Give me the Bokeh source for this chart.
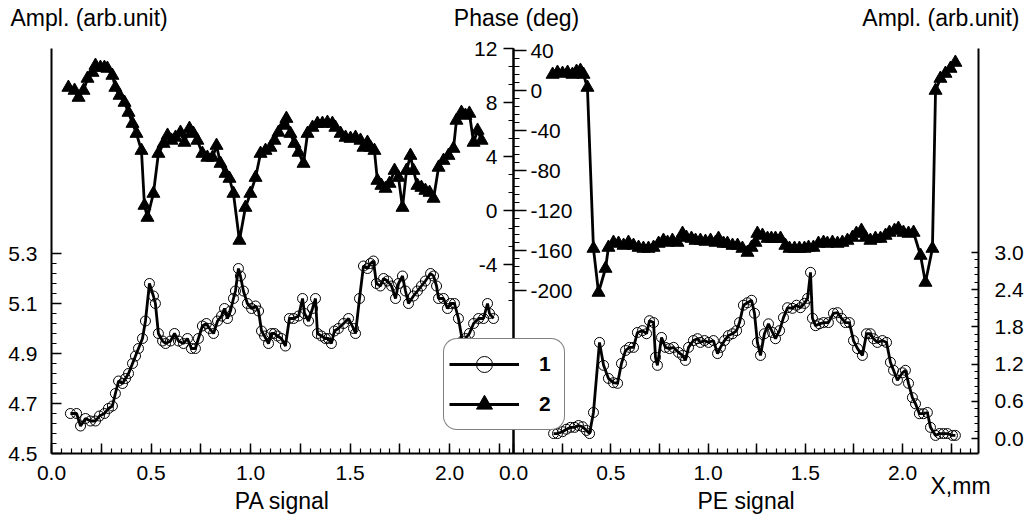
from bokeh.plotting import figure
from bokeh.models import Range1d, LinearAxis, FixedTicker, Label, Legend, LegendItem
from bokeh.embed import file_html
from bokeh.resources import INLINE

FONT = "Liberation Sans"

# ---------------- data: PA signal (left panel) ----------------
pa_amp_x = [0.095, 0.126, 0.146, 0.171, 0.196, 0.221, 0.241, 0.266, 0.286, 0.306,
            0.321, 0.337, 0.357, 0.372, 0.387, 0.407, 0.422, 0.437, 0.457, 0.472,
            0.492, 0.512, 0.522, 0.537, 0.558, 0.573, 0.598, 0.618, 0.638, 0.663,
            0.683, 0.703, 0.723, 0.738, 0.758, 0.778, 0.794, 0.814, 0.834, 0.854,
            0.869, 0.884, 0.899, 0.914, 0.924, 0.939, 0.949, 0.964, 0.984, 1.005,
            1.025, 1.040, 1.055, 1.070, 1.090, 1.105, 1.120, 1.135, 1.155, 1.175,
            1.195, 1.216, 1.241, 1.261, 1.271, 1.291, 1.311, 1.326, 1.336, 1.356,
            1.376, 1.391, 1.406, 1.421, 1.441, 1.467, 1.492, 1.517, 1.527, 1.547,
            1.567, 1.587, 1.602, 1.617, 1.632, 1.652, 1.668, 1.688, 1.708, 1.728,
            1.743, 1.763, 1.778, 1.793, 1.818, 1.838, 1.858, 1.878, 1.904, 1.919,
            1.934, 1.944, 1.969, 1.989, 2.004, 2.024, 2.044, 2.064, 2.079, 2.099,
            2.120, 2.145, 2.170, 2.190, 2.200, 2.220]
pa_amp = [4.66, 4.66, 4.61, 4.64, 4.63, 4.63, 4.65, 4.66, 4.68, 4.69,
          4.74, 4.79, 4.78, 4.80, 4.82, 4.86, 4.89, 4.92, 4.96, 5.03,
          5.18, 5.13, 5.10, 4.98, 4.95, 4.94, 4.95, 4.98, 4.95, 4.94,
          4.96, 4.92, 4.92, 4.96, 5.01, 5.02, 5.00, 4.98, 5.03, 5.05,
          5.08, 5.04, 5.07, 5.12, 5.15, 5.24, 5.21, 5.15, 5.10, 5.08,
          5.09, 5.07, 4.99, 4.97, 4.94, 4.98, 4.98, 4.97, 4.96, 4.93,
          5.04, 5.04, 5.05, 5.12, 5.06, 5.03, 5.08, 5.12, 4.98, 4.97,
          4.96, 4.96, 4.94, 4.99, 5.00, 5.02, 5.04, 5.00, 4.98, 5.12,
          5.25, 5.24, 5.26, 5.27, 5.18, 5.17, 5.20, 5.19, 5.17, 5.12,
          5.18, 5.21, 5.15, 5.10, 5.13, 5.15, 5.17, 5.19, 5.22, 5.21,
          5.17, 5.12, 5.12, 5.08, 5.10, 5.10, 5.04, 4.95, 4.96, 4.98,
          5.02, 5.04, 5.04, 5.10, 5.06, 5.04]

pa_phase_x = [0.085, 0.116, 0.136, 0.161, 0.181, 0.206, 0.221, 0.246, 0.266, 0.281,
              0.306, 0.321, 0.342, 0.367, 0.387, 0.407, 0.427, 0.452, 0.467, 0.482,
              0.512, 0.537, 0.563, 0.583, 0.603, 0.623, 0.648, 0.668, 0.693, 0.713,
              0.733, 0.758, 0.783, 0.809, 0.829, 0.849, 0.874, 0.894, 0.914, 0.944,
              0.974, 0.999, 1.025, 1.050, 1.075, 1.100, 1.120, 1.140, 1.165, 1.180,
              1.200, 1.220, 1.241, 1.266, 1.286, 1.311, 1.336, 1.361, 1.386, 1.411,
              1.426, 1.452, 1.477, 1.502, 1.527, 1.552, 1.567, 1.587, 1.602, 1.622,
              1.637, 1.657, 1.678, 1.698, 1.723, 1.743, 1.763, 1.783, 1.803, 1.818,
              1.838, 1.858, 1.878, 1.899, 1.919, 1.944, 1.969, 1.994, 2.019, 2.034,
              2.059, 2.079, 2.099, 2.120, 2.140, 2.160]
pa_phase = [9.11, 8.89, 8.37, 8.89, 9.78, 10.22, 10.74, 10.59, 10.59, 10.52,
            10.0, 9.11, 8.52, 8.0, 7.26, 6.44, 5.70, 4.44, 0.37, -0.52,
            1.26, 4.22, 4.96, 5.56, 5.19, 5.41, 5.78, 5.04, 6.07, 5.70,
            5.19, 4.22, 3.93, 3.93, 4.81, 3.48, 2.74, 2.37, 1.26, -2.22,
            0.22, 1.26, 2.44, 4.22, 4.44, 4.67, 5.19, 5.78, 6.30, 6.81,
            5.70, 4.96, 4.30, 3.48, 5.70, 6.15, 6.44, 6.44, 6.52, 6.44,
            6.15, 5.70, 5.41, 5.33, 5.41, 5.19, 4.67, 5.04, 4.67, 4.44,
            2.22, 1.85, 1.63, 2.00, 2.96, 2.44, 0.22, 2.96, 4.07, 2.96,
            1.85, 1.70, 1.48, 1.33, 0.89, 3.19, 3.70, 4.07, 4.59, 6.67,
            7.26, 7.04, 7.19, 5.04, 5.93, 5.19]

# ---------------- data: PE signal (right panel) ----------------
pe_amp_x = [0.206, 0.226, 0.252, 0.272, 0.293, 0.314, 0.334, 0.355, 0.375, 0.391,
            0.411, 0.442, 0.463, 0.488, 0.514, 0.535, 0.555, 0.576, 0.596, 0.617,
            0.637, 0.663, 0.684, 0.699, 0.720, 0.730, 0.740, 0.761, 0.781, 0.802,
            0.823, 0.848, 0.869, 0.884, 0.900, 0.925, 0.946, 0.961, 0.982, 1.003,
            1.028, 1.049, 1.064, 1.085, 1.105, 1.126, 1.147, 1.162, 1.182, 1.203,
            1.224, 1.239, 1.254, 1.270, 1.290, 1.311, 1.332, 1.347, 1.368, 1.388,
            1.409, 1.434, 1.455, 1.475, 1.496, 1.512, 1.527, 1.537, 1.553, 1.573,
            1.594, 1.619, 1.645, 1.666, 1.686, 1.707, 1.727, 1.748, 1.769, 1.794,
            1.815, 1.835, 1.851, 1.871, 1.897, 1.918, 1.938, 1.954, 1.974, 2.000,
            2.015, 2.031, 2.051, 2.067, 2.087, 2.108, 2.128, 2.144, 2.170, 2.190,
            2.211, 2.231, 2.257, 2.272]
pe_amp = [0.08, 0.08, 0.11, 0.15, 0.18, 0.18, 0.21, 0.19, 0.13, 0.08,
          0.42, 1.55, 1.18, 0.97, 0.90, 0.89, 1.21, 1.42, 1.47, 1.47,
          1.71, 1.74, 1.69, 1.90, 1.87, 1.31, 1.18, 1.63, 1.47, 1.45,
          1.47, 1.39, 1.34, 1.26, 1.47, 1.58, 1.61, 1.55, 1.58, 1.55,
          1.58, 1.37, 1.47, 1.58, 1.66, 1.69, 1.74, 1.87, 2.15, 2.19,
          2.23, 2.02, 1.55, 1.34, 1.69, 1.85, 1.71, 1.61, 1.74, 1.95,
          2.11, 2.10, 2.15, 2.11, 2.18, 2.26, 2.68, 1.94, 1.82, 1.85,
          1.87, 1.87, 2.02, 2.03, 1.94, 1.87, 1.87, 1.58, 1.45, 1.34,
          1.69, 1.69, 1.61, 1.55, 1.58, 1.55, 1.23, 1.10, 0.94, 1.06,
          1.10, 0.89, 0.66, 0.56, 0.40, 0.40, 0.42, 0.18, 0.05, 0.08,
          0.08, 0.08, 0.05, 0.05]

pe_phase_x = [0.201, 0.226, 0.252, 0.278, 0.303, 0.324, 0.344, 0.360, 0.380, 0.411,
              0.437, 0.473, 0.488, 0.514, 0.540, 0.566, 0.591, 0.617, 0.643, 0.668,
              0.694, 0.720, 0.746, 0.771, 0.792, 0.817, 0.843, 0.869, 0.889, 0.915,
              0.936, 0.961, 0.987, 1.013, 1.039, 1.054, 1.080, 1.100, 1.126, 1.152,
              1.177, 1.203, 1.224, 1.244, 1.254, 1.280, 1.306, 1.326, 1.347, 1.373,
              1.398, 1.419, 1.445, 1.470, 1.496, 1.517, 1.542, 1.568, 1.594, 1.614,
              1.640, 1.666, 1.691, 1.717, 1.743, 1.763, 1.789, 1.810, 1.835, 1.861,
              1.887, 1.913, 1.933, 1.959, 1.979, 2.005, 2.031, 2.057, 2.093, 2.118,
              2.154, 2.170, 2.195, 2.221, 2.247, 2.272]
pe_phase = [16, 18, 17, 18, 16, 19, 20, 16, 3, -158,
            -202, -178, -157, -152, -153, -155, -152, -155, -157, -158,
            -158, -157, -153, -150, -152, -150, -152, -143, -147, -148,
            -150, -150, -151, -150, -152, -148, -153, -153, -155, -155,
            -158, -162, -157, -152, -143, -145, -148, -148, -148, -148,
            -155, -158, -158, -158, -158, -157, -157, -153, -152, -153,
            -152, -153, -152, -150, -147, -143, -140, -147, -150, -148,
            -148, -145, -142, -140, -138, -142, -143, -142, -165, -192,
            -158, 0, 12, 17, 22, 28]

# ---------------- tick labels ----------------
pa_x_ticks = [0.0, 0.25, 0.5, 0.75, 1.0, 1.25, 1.5, 1.75, 2.0, 2.25]
pa_x_labels = ["0.0", "", "0.5", "", "1.0", "", "1.5", "", "2.0", ""]
pe_x_ticks = [0.0, 0.25, 0.5, 0.75, 1.0, 1.25, 1.5, 1.75, 2.0, 2.25]
pe_x_labels = ["0.0", "", "0.5", "", "1.0", "", "1.5", "", "2.0", ""]
amp_l_ticks = [4.5, 4.7, 4.9, 5.1, 5.3]
amp_l_labels = ["4.5", "4.7", "4.9", "5.1", "5.3"]
ph_l_ticks = [12, 8, 4, 0, -4]
ph_l_labels = ["12", "8", "4", "0", "-4"]
ph_r_ticks = [40, 0, -40, -80, -120, -160, -200]
ph_r_labels = ["40", "0", "-40", "-80", "-120", "-160", "-200"]
amp_r_ticks = [0.0, 0.6, 1.2, 1.8, 2.4, 3.0]
amp_r_labels = ["0.0", "0.6", "1.2", "1.8", "2.4", "3.0"]

# ---------------- figure (frame = whole canvas, axes placed inside) ----------------
X_SPLIT = 2.32      # boundary between the panels (left-panel x units)
X_END = 4.656       # right edge of the right panel (left-panel x units)
XR_END = 2.391      # right edge of the right panel (right-panel x units)

p = figure(width=1028, height=517, output_backend="svg", toolbar_location=None,
           x_range=Range1d(-0.256, 4.907), y_range=Range1d(4.244, 6.312),
           x_axis_type=None, y_axis_type=None,
           min_border_left=0, min_border_right=0, min_border_top=0, min_border_bottom=0)
p.outline_line_color = None
p.background_fill_color = "white"
p.border_fill_color = "white"
p.extra_x_ranges = {"xr": Range1d(-2.638, 2.648)}
p.extra_y_ranges = {"phL": Range1d(-22.74, 15.556),
                    "ampR": Range1d(-1.274, 7.065),
                    "phR": Range1d(-427, 90)}

TICK_FS = "21px"
TEXT_FS = "23px"


def style(ax, ticks, labels, minor, t_in, t_out, m_in, m_out, standoff):
    ax.ticker = FixedTicker(ticks=ticks, minor_ticks=minor)
    ax.major_label_overrides = {t: l for t, l in zip(ticks, labels)}
    ax.axis_line_color = "black"
    ax.axis_line_width = 2
    ax.major_tick_in = t_in
    ax.major_tick_out = t_out
    ax.minor_tick_in = m_in
    ax.minor_tick_out = m_out
    ax.major_tick_line_color = "black"
    ax.major_tick_line_width = 1.5
    ax.minor_tick_line_color = "black"
    ax.minor_tick_line_width = 1.2
    ax.major_label_text_font = FONT
    ax.major_label_text_font_size = TICK_FS
    ax.major_label_text_color = "black"
    ax.major_label_standoff = standoff
    ax.axis_label_text_font = FONT
    ax.axis_label_text_font_size = TEXT_FS
    ax.axis_label_text_font_style = "normal"
    ax.axis_label_text_color = "black"
    ax.axis_label_standoff = 5


# left amplitude axis
ax_al = LinearAxis(fixed_location=0, bounds=(4.5, 6.12))
style(ax_al, amp_l_ticks, amp_l_labels, [round(4.5 + 0.04 * i, 2) for i in range(21)],
      10, 0, 5, 0, 14)
p.add_layout(ax_al, "left")

# phase axis of left panel (on the middle line, labels to the left)
ax_pl = LinearAxis(y_range_name="phL", fixed_location=X_SPLIT, bounds=(-18.0, 12.0))
style(ax_pl, ph_l_ticks, ph_l_labels, [12 - 4.0 / 3.0 * i for i in range(15)],
      0, 10, 0, 5, 6)
p.add_layout(ax_pl, "left")

# phase axis of right panel (on the middle line, labels to the right)
ax_pr = LinearAxis(y_range_name="phR", fixed_location=X_SPLIT, bounds=(-363, 42))
style(ax_pr, ph_r_ticks, ph_r_labels, [40 - 8 * i for i in range(31)],
      0, 13, 0, 6, 4)
p.add_layout(ax_pr, "right")

# right amplitude axis
ax_ar = LinearAxis(y_range_name="ampR", fixed_location=X_END, bounds=(-0.242, 6.29))
style(ax_ar, amp_r_ticks, amp_r_labels, [round(0.12 * i, 2) for i in range(26)],
      7, 0, 4, 0, 16)
p.add_layout(ax_ar, "right")

# bottom axes
ax_xl = LinearAxis(fixed_location=4.5, bounds=(0, X_SPLIT), axis_label="PA signal")
style(ax_xl, pa_x_ticks, pa_x_labels, [round(0.05 * i, 2) for i in range(47)],
      10, 0, 5, 0, 12)
p.add_layout(ax_xl, "below")

ax_xr = LinearAxis(x_range_name="xr", fixed_location=4.5, bounds=(0, XR_END),
                   axis_label="PE signal")
style(ax_xr, pe_x_ticks, pe_x_labels, [round(0.05 * i, 2) for i in range(48)],
      10, 0, 5, 0, 12)
p.add_layout(ax_xr, "below")

# ---------------- series ----------------
LW = 2.8
l1 = p.line(pa_amp_x, pa_amp, line_color="black", line_width=LW)
c1 = p.scatter(pa_amp_x, pa_amp, marker="circle", size=10, fill_color=None,
               line_color="black", line_width=1)
l2 = p.line(pa_phase_x, pa_phase, y_range_name="phL", line_color="black", line_width=LW)
t2 = p.scatter(pa_phase_x, pa_phase, y_range_name="phL", marker="triangle", size=13,
               fill_color="black", line_color="black")

p.line(pe_amp_x, pe_amp, x_range_name="xr", y_range_name="ampR",
       line_color="black", line_width=LW)
p.scatter(pe_amp_x, pe_amp, x_range_name="xr", y_range_name="ampR", marker="circle",
          size=10, fill_color=None, line_color="black", line_width=1)
p.line(pe_phase_x, pe_phase, x_range_name="xr", y_range_name="phR",
       line_color="black", line_width=LW)
p.scatter(pe_phase_x, pe_phase, x_range_name="xr", y_range_name="phR", marker="triangle",
          size=13, fill_color="black", line_color="black")

# ---------------- legend ----------------
legend = Legend(items=[LegendItem(label="1", renderers=[l1, c1]),
                       LegendItem(label="2", renderers=[l2, t2])],
                location=(443, 87), orientation="vertical",
                glyph_width=70, glyph_height=40, spacing=0, padding=5, margin=0,
                label_standoff=20, label_text_font=FONT, label_text_font_size="21px",
                label_text_font_style="bold", label_text_color="black",
                border_line_color="black", border_line_width=1.5,
                background_fill_color="white", background_fill_alpha=1.0)
if "border_radius" in Legend.properties():
    legend.border_radius = 14
p.add_layout(legend)

# ---------------- header texts ----------------
def txt(x, y, s, align):
    p.add_layout(Label(x=x, y=y, x_units="screen", y_units="screen", text=s,
                       text_font=FONT, text_font_size=TEXT_FS, text_color="black",
                       text_align=align, text_baseline="middle"))


txt(10, 500, "Ampl. (arb.unit)", "left")
txt(516, 500, "Phase (deg)", "center")
txt(1019, 500, "Ampl. (arb.unit)", "right")
txt(930, 32, "X,mm", "left")

open("out.html", "w").write(file_html(p, INLINE))
